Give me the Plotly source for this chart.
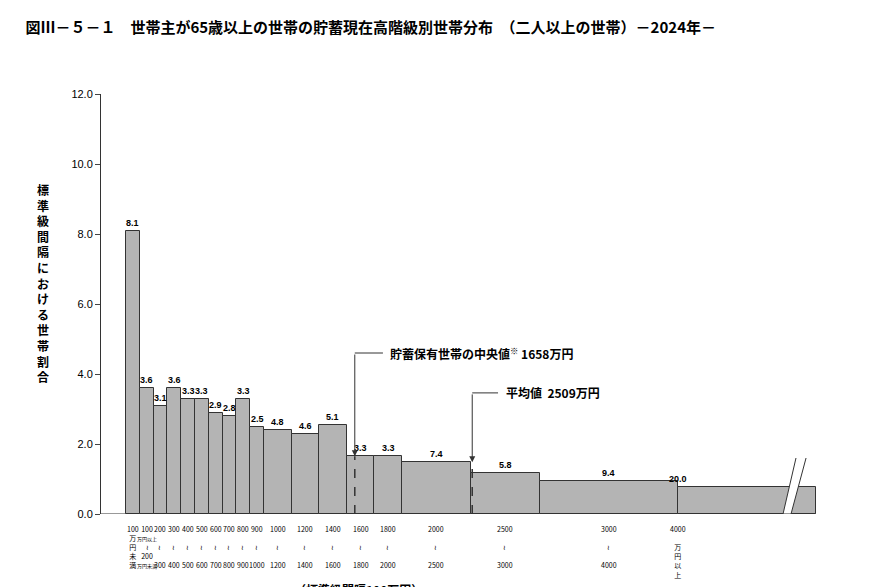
import plotly.graph_objects as go

# class bounds (万円), share of households (%), height per 100万円 interval
lower = [0, 100, 200, 300, 400, 500, 600, 700, 800, 900, 1000, 1200, 1400, 1600, 1800, 2000, 2500, 3000, 4000]
upper = [100, 200, 300, 400, 500, 600, 700, 800, 900, 1000, 1200, 1400, 1600, 1800, 2000, 2500, 3000, 4000, 5000]
share = [8.1, 3.6, 3.1, 3.6, 3.3, 3.3, 2.9, 2.8, 3.3, 2.5, 4.8, 4.6, 5.1, 3.3, 3.3, 7.4, 5.8, 9.4, 20.0]
height = [8.1, 3.6, 3.1, 3.6, 3.3, 3.3, 2.9, 2.8, 3.3, 2.5, 2.4, 2.3, 2.55, 1.65, 1.65, 1.48, 1.16, 0.94, 0.77]
tick_text = ["100<br>万<br>円<br>未<br>満", "100<br><span style='font-size:5px'>万円以上</span><br>≀<br>200<br><span style='font-size:5px'>万円未満</span>"] + \
    [f"{lo}<br> <br>≀<br> <br>{hi}" for lo, hi in zip(lower[2:-1], upper[2:-1])] + \
    ["4000<br> <br>万<br>円<br>以<br>上"]
median = 1658
mean = 2509

font = "Noto Sans CJK JP"
centers = [(a + b) / 2 for a, b in zip(lower, upper)]
widths = [b - a for a, b in zip(lower, upper)]
labpos = centers[:-1] + [4000]

fig = go.Figure()
fig.add_trace(go.Bar(x=centers, y=height, width=widths,
                     marker=dict(color="#b4b4b4", line=dict(color="#333", width=1)),
                     hoverinfo="skip"))
# value labels
for x, h, s in zip(labpos, height, share):
    fig.add_annotation(x=x, y=h, text=f"<b>{s:.1f}</b>", showarrow=False, yshift=8,
                       font=dict(size=9, color="black", family="Liberation Sans"))
# category labels under bars
for x, t in zip(labpos, tick_text):
    fig.add_annotation(x=x, y=-0.02, yref="paper", text=t, showarrow=False, yanchor="top",
                       font=dict(size=7, color="black"), align="center")

# dashed lines for median / mean
for v, h in [(median, 1.65), (mean, 1.48)]:
    fig.add_shape(type="line", x0=v, x1=v, y0=0, y1=h,
                  line=dict(color="#333", width=1.5, dash="dash"))

# callout arrows
for v, h, ytxt, xend, txt in [(median, 1.65, 4.6, 1862, "<b>貯蓄保有世帯の中央値<sup>※</sup> 1658万円</b>"),
                              (mean, 1.48, 3.46, 2696, "<b>平均値  2509万円</b>")]:
    fig.add_shape(type="line", x0=v, x1=xend, y0=ytxt, y1=ytxt, line=dict(color="#333", width=1))
    fig.add_annotation(x=v, y=h, ax=v, ay=ytxt, axref="x", ayref="y", showarrow=True,
                       arrowhead=2, arrowsize=1.2, arrowwidth=1, arrowcolor="#333", text="")
    fig.add_annotation(x=xend + 40, y=ytxt, text=txt, showarrow=False, xanchor="left",
                       font=dict(size=12, color="black"))

# axis break
fig.add_shape(type="path", path="M 4761 0 L 4855 1.6 L 4928 1.6 L 4819 0 Z",
              fillcolor="white", line=dict(width=0))
for x0, x1 in [(4761, 4855), (4819, 4928)]:
    fig.add_shape(type="line", x0=x0, x1=x1, y0=0, y1=1.6, line=dict(color="#333", width=1))

fig.add_annotation(x=-0.06, xref="paper", y=12.25, text="<b>(%)</b>", showarrow=False,
                   yanchor="bottom", font=dict(size=11, color="black"))
fig.add_annotation(x=-0.07, xref="paper", y=0.55, yref="paper",
                   text="<b>" + "<br>".join("標準級間隔における世帯割合") + "</b>", showarrow=False,
                   font=dict(size=12, color="black"), xanchor="right")
fig.add_annotation(x=0.36, xref="paper", y=-0.155, yref="paper", yanchor="top",
                   text="<b>（標準級間隔100万円）</b>", showarrow=False, font=dict(size=12, color="black"))

fig.update_layout(
    width=870, height=587,
    margin=dict(l=93, r=62, t=86, b=81),
    plot_bgcolor="white", paper_bgcolor="white",
    font=dict(family=font, color="black"),
    showlegend=False,
    bargap=0,
    title=dict(text="<b>図Ⅲ－５－１　世帯主が65歳以上の世帯の貯蓄現在高階級別世帯分布　（二人以上の世帯）－2024年－</b>",
               x=0.02, xanchor="left", y=0.975, font=dict(size=15, color="black")),
    xaxis=dict(range=[-181, 5000], showticklabels=False, ticks="", automargin=False,
               showgrid=False, zeroline=False, showline=False, fixedrange=True),
    yaxis=dict(range=[0, 12], dtick=2, tickformat=".1f", ticks="outside", ticklen=5,
               showline=True, linecolor="#333", showgrid=False, zeroline=False,
               automargin=False, tickfont=dict(size=11, family="Liberation Sans")),
)
fig.add_shape(type="line", x0=-181, x1=5000, y0=0, y1=0, line=dict(color="#333", width=1))

fig.write_html("out.html")
